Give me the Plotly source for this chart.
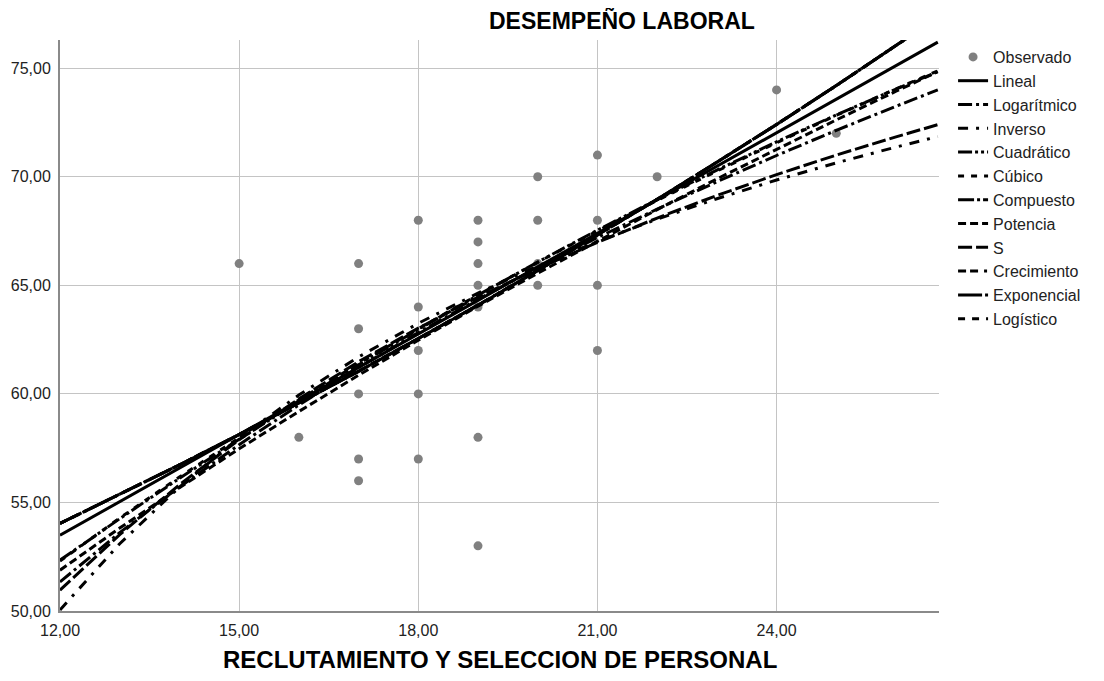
import plotly.graph_objects as go

# Observed data
obs_x = [15, 16, 17, 17, 17, 17, 17, 18, 18, 18, 18, 18,
         19, 19, 19, 19, 19, 19, 19, 20, 20, 20, 20,
         21, 21, 21, 21, 22, 24, 25]
obs_y = [66, 58, 66, 63, 60, 57, 56, 68, 64, 62, 60, 57,
         68, 67, 66, 65, 64, 58, 53, 70, 68, 66, 65,
         71, 68, 65, 62, 70, 74, 72]

# Fitted curves
fit_x = [12, 13, 14, 15, 16, 17, 18, 19, 20, 21, 22, 23, 24, 25, 26, 26.7]
lineal = [53.49, 55.04, 56.58, 58.13, 59.67, 61.22, 62.76, 64.31, 65.85, 67.40, 68.94, 70.49, 72.03, 73.58, 75.12, 76.20]
logaritmico = [51.34, 53.61, 55.71, 57.66, 59.49, 61.21, 62.83, 64.36, 65.81, 67.20, 68.51, 69.77, 70.98, 72.14, 73.25, 74.00]
inverso = [50.05, 53.10, 55.71, 57.97, 59.95, 61.70, 63.25, 64.64, 65.89, 67.02, 68.05, 68.99, 69.85, 70.64, 71.37, 71.85]
cuadratico = [52.34, 54.25, 56.11, 57.91, 59.65, 61.34, 62.97, 64.55, 66.07, 67.54, 68.95, 70.31, 71.61, 72.85, 74.04, 74.84]
cubico = [52.30, 54.28, 56.17, 57.98, 59.72, 61.39, 63.00, 64.56, 66.06, 67.51, 68.91, 70.26, 71.57, 72.83, 74.05, 74.88]
compuesto = [54.03, 55.37, 56.73, 58.13, 59.57, 61.04, 62.55, 64.09, 65.68, 67.30, 68.96, 70.67, 72.41, 74.20, 76.03, 77.34]
potencia = [51.88, 53.82, 55.68, 57.47, 59.19, 60.86, 62.47, 64.04, 65.56, 67.04, 68.49, 69.90, 71.27, 72.62, 73.94, 74.84]
s_curve = [50.96, 53.52, 55.82, 57.89, 59.77, 61.48, 63.03, 64.46, 65.77, 66.98, 68.10, 69.14, 70.10, 71.00, 71.84, 72.40]
crecimiento = [54.03, 55.37, 56.73, 58.13, 59.57, 61.04, 62.55, 64.09, 65.68, 67.30, 68.96, 70.67, 72.41, 74.20, 76.03, 77.34]
exponencial = [54.03, 55.37, 56.73, 58.13, 59.57, 61.04, 62.55, 64.09, 65.68, 67.30, 68.96, 70.67, 72.41, 74.20, 76.03, 77.34]
logistico = [54.03, 55.37, 56.73, 58.13, 59.57, 61.04, 62.55, 64.09, 65.68, 67.30, 68.96, 70.67, 72.41, 74.20, 76.03, 77.34]

x_ticks = [12, 15, 18, 21, 24]
y_ticks = [50, 55, 60, 65, 70, 75]

curves = [
    ("Lineal", lineal, "solid"),
    ("Logarítmico", logaritmico, "14px,4px,3px,4px"),
    ("Inverso", inverso, "10px,8px,3px,8px"),
    ("Cuadrático", cuadratico, "14px,3px,3px,3px,3px,3px"),
    ("Cúbico", cubico, "6px,7px"),
    ("Compuesto", compuesto, "16px,3px,3px,3px"),
    ("Potencia", potencia, "8px,4px"),
    ("S", s_curve, "14px,4px"),
    ("Crecimiento", crecimiento, "8px,4px,8px,6px,3px,6px"),
    ("Exponencial", exponencial, "24px,3px,3px,3px"),
    ("Logístico", logistico, "7px,7px"),
]

FONT = "Arial, Liberation Sans, sans-serif"

fig = go.Figure()
fig.add_trace(go.Scatter(
    x=obs_x, y=obs_y, mode="markers", name="Observado",
    marker=dict(color="#808080", size=9),
))
for name, ys, dash in curves:
    fig.add_trace(go.Scatter(
        x=fit_x, y=ys, mode="lines", name=name,
        line=dict(color="black", width=3, dash=dash),
    ))

fig.update_layout(
    width=1096, height=673,
    margin=dict(l=52, r=165, t=32, b=70),
    paper_bgcolor="white", plot_bgcolor="white",
    separators=",.",
    font=dict(family=FONT, size=16, color="#222"),
    showlegend=True,
    legend=dict(x=1.016, y=1.0, xanchor="left", yanchor="top",
                font=dict(family=FONT, size=16, color="#222"),
                bgcolor="rgba(0,0,0,0)"),
    xaxis=dict(range=[12, 26.72], tickvals=x_ticks, tickformat=".2f",
               showgrid=True, gridcolor="#c4c4c4", gridwidth=1,
               showline=True, linecolor="#8a8a8a", linewidth=2,
               zeroline=False, ticks="", ticklabelstandoff=4,
               automargin=False, tickfont=dict(size=16)),
    yaxis=dict(range=[50, 76.3], tickvals=y_ticks, tickformat=".2f",
               showgrid=True, gridcolor="#c4c4c4", gridwidth=1,
               showline=True, linecolor="#8a8a8a", linewidth=2,
               zeroline=False, ticks="", ticklabelstandoff=4,
               automargin=False, tickfont=dict(size=16)),
    annotations=[
        dict(text="<b>DESEMPEÑO LABORAL</b>", xref="paper", yref="paper",
             x=0.639, y=1.035, xanchor="center", yanchor="middle",
             showarrow=False, font=dict(family=FONT, size=23, color="black")),
        dict(text="<b>RECLUTAMIENTO Y SELECCION DE PERSONAL</b>", xref="paper", yref="paper",
             x=0.5, y=-0.085, xanchor="center", yanchor="middle",
             showarrow=False, font=dict(family=FONT, size=24, color="black")),
    ],
)

fig.write_html("out.html")
